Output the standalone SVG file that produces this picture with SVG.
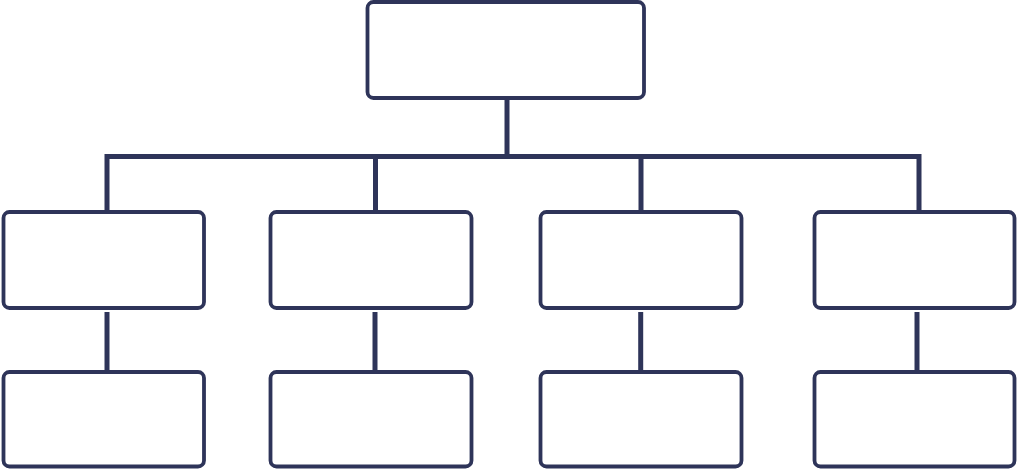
<svg xmlns="http://www.w3.org/2000/svg" width="1018" height="470" viewBox="0 0 1018 470">
  <style>
    .box { fill: #ffffff; stroke: #2e3459; stroke-width: 3.8; }
    .link { fill: none; stroke: #2e3459; stroke-width: 5; stroke-linejoin: miter; stroke-linecap: butt; }
  </style>
  <rect width="1018" height="470" fill="#ffffff"/>

  <!-- connectors -->
  <g id="connectors">
    <path class="link" d="M507,98 V156.5"/>
    <path class="link" d="M107,212 V156.5 H919 V212"/>
    <path class="link" d="M375.5,156.5 V212"/>
    <path class="link" d="M641,156.5 V212"/>
    <path class="link" d="M107,312 V372"/>
    <path class="link" d="M375,312 V372"/>
    <path class="link" d="M640.7,312 V372"/>
    <path class="link" d="M917,312 V372"/>
  </g>

  <!-- root -->
  <g id="root">
    <rect class="box" x="367.5" y="2" width="276.5" height="96" rx="6"/>
  </g>

  <!-- second level -->
  <g id="level1-a">
    <rect class="box" x="3.5" y="212" width="200.5" height="96" rx="6"/>
  </g>
  <g id="level1-b">
    <rect class="box" x="270.5" y="212" width="201" height="96" rx="6"/>
  </g>
  <g id="level1-c">
    <rect class="box" x="540.5" y="212" width="201" height="96" rx="6"/>
  </g>
  <g id="level1-d">
    <rect class="box" x="814.5" y="212" width="200" height="96" rx="6"/>
  </g>

  <!-- third level -->
  <g id="level2-a">
    <rect class="box" x="3.5" y="372" width="200.5" height="94.5" rx="6"/>
  </g>
  <g id="level2-b">
    <rect class="box" x="270.5" y="372" width="201" height="94.5" rx="6"/>
  </g>
  <g id="level2-c">
    <rect class="box" x="540.5" y="372" width="201" height="94.5" rx="6"/>
  </g>
  <g id="level2-d">
    <rect class="box" x="814.5" y="372" width="200" height="94.5" rx="6"/>
  </g>
</svg>
